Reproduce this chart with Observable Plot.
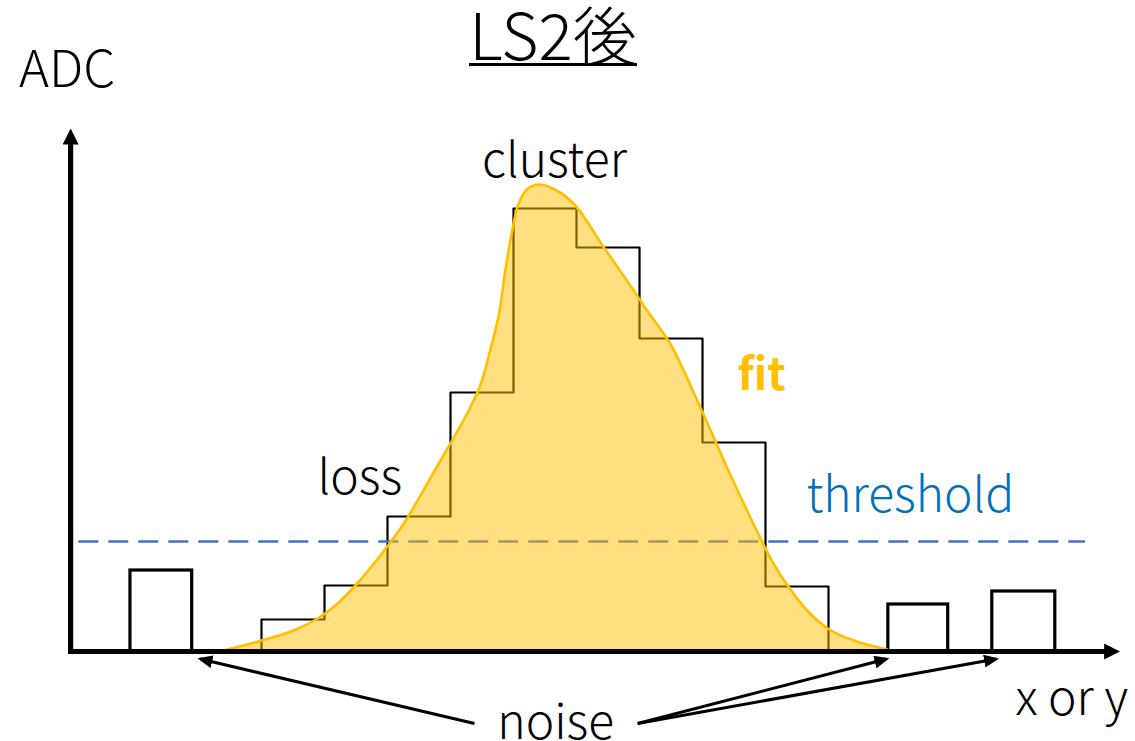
<!DOCTYPE html>
<html><head><meta charset="utf-8">
<script src="https://cdn.jsdelivr.net/npm/d3@7"></script>
<script src="https://cdn.jsdelivr.net/npm/@observablehq/plot@0.6"></script>
<style>
body{margin:0;background:#fff;font-family:'Noto Sans CJK JP','Noto Sans',sans-serif;}
#wrap{width:1135px;height:741px;position:relative;overflow:hidden;background:#fff}
#head{position:relative;height:100px}
#title{position:absolute;left:0;width:1106px;text-align:center;top:3px}
#title span{display:inline-block;font-size:64px;line-height:58px;border-bottom:3.5px solid #000;padding-bottom:2px;color:#000;font-weight:300}
#ylab{position:absolute;left:19px;top:40px;font-size:51px;line-height:50px;color:#000;font-weight:300}
#chart svg{display:block}
</style></head>
<body>
<div id="wrap">
  <div id="head"><div id="title"><span>LS2後</span></div><div id="ylab">ADC</div></div>
  <div id="chart"></div>
</div>
<script>
// histogram of the cluster (bin lower edges, upper edges, ADC)
const binLo = [0, 1, 2, 3, 4, 5, 6, 7, 8];
const binHi = [1, 2, 3, 4, 5, 6, 7, 8, 9];
const binADC = [6.4, 13.2, 27, 51.8, 88.6, 80.8, 62.6, 41.8, 13];
// isolated noise hits
const noiseLo = [-2.08, 9.95, 11.6];
const noiseHi = [-1.1, 10.9, 12.6];
const noiseADC = [16.2, 9.4, 12];
// threshold level and its extent
const thresholdADC = 22;
const thresholdFrom = -2.9;
const thresholdTo = 13.08;
// fitted curve
const fitX = [-0.6, -0.02, 0.51, 0.88, 1.2, 1.49, 1.78, 2.05, 2.29, 2.8, 3.29, 3.48, 3.63, 3.77, 3.87, 3.98, 4.08, 4.22, 4.40, 4.64, 4.96, 5.43, 5.80, 6.12, 6.49, 6.97, 7.4, 7.84, 8.13, 8.34, 8.66, 9.0, 9.4, 9.93];
const fitY = [0.2, 2.1, 4.2, 6.5, 9.5, 13.2, 17.5, 21.9, 26.2, 37.3, 48.2, 53.5, 60.2, 67.5, 76.2, 84.2, 89.5, 92.5, 93.4, 92.5, 89.5, 80.9, 74.2, 68.2, 61.5, 48.7, 36.5, 24.7, 17.5, 13.4, 8.2, 4.5, 2.2, 0.4];
// axes extent
const xAxisFrom = -3.06, xAxisTo = 13.55, yAxisAt = -3.03, yAxisFrom = -0.5, yAxisTo = 103.6;
// annotation arrows pointing at noise
const noiseArrowX1 = [3.38, 5.97, 5.97];
const noiseArrowY1 = [-14.4, -14.4, -14.4];
const noiseArrowX2 = [-0.97, 9.92, 11.66];
const noiseArrowY2 = [-1.5, -1.5, -1.5];
// labels
const labelText = ["cluster", "loss", "threshold", "noise", "x or y"];
const labelX = [4.65, 1.56, 10.3, 4.67, 12.86];
const labelY = [98, 34.6, 31, -14.4, -9.6];
const labelColor = ["#000000", "#000000", "#0070C0", "#000000", "#000000"];
const fitLabel = ["fit"];
const fitLabelX = [7.94];
const fitLabelY = [55.2];

const outline = [{x: binLo[0], y: 0}]
  .concat(binLo.map((d, i) => ({x: d, y: binADC[i]})))
  .concat([{x: binHi[binHi.length - 1], y: 0}]);
const noise = noiseLo.map((d, i) => ({x1: d, x2: noiseHi[i], y: noiseADC[i]}));
const fit = fitX.map((d, i) => ({x: d, y: fitY[i]}));
const arrows = noiseArrowX1.map((d, i) => ({x1: d, y1: noiseArrowY1[i], x2: noiseArrowX2[i], y2: noiseArrowY2[i]}));
const axes = [
  {x1: xAxisFrom, y1: 0, x2: xAxisTo, y2: 0},
  {x1: yAxisAt, y1: yAxisFrom, x2: yAxisAt, y2: yAxisTo}
];
const labels = labelText.map((t, i) => ({t, x: labelX[i], y: labelY[i], c: labelColor[i]}));
const fitLab = fitLabel.map((t, i) => ({t, x: fitLabelX[i], y: fitLabelY[i]}));

const font = "'Noto Sans CJK JP','Noto Sans',sans-serif";
const chart = Plot.plot({
  width: 1135, height: 641,
  marginLeft: 68.85, marginRight: 10.9, marginTop: 28, marginBottom: 90,
  x: {domain: [-3.05, 13.7], axis: null},
  y: {domain: [0, 104.6], axis: null},
  style: {fontFamily: font, background: "white", overflow: "visible"},
  marks: [
    Plot.line(outline, {x: "x", y: "y", curve: "step-after", stroke: "#000", strokeWidth: 2.2}),
    Plot.rect(noise, {x1: "x1", x2: "x2", y1: 0, y2: "y", fill: "none", stroke: "#000", strokeWidth: 3.2}),
    Plot.ruleY([thresholdADC], {x1: thresholdFrom, x2: thresholdTo, stroke: "#4472C4", strokeWidth: 2.6, strokeDasharray: "20,10"}),
    Plot.areaY(fit, {x: "x", y: "y", curve: "catmull-rom", fill: "#FFC000", fillOpacity: 0.5}),
    Plot.line(fit, {x: "x", y: "y", curve: "catmull-rom", stroke: "#FFC000", strokeWidth: 2.6}),
    Plot.link(axes, {x1: "x1", y1: "y1", x2: "x2", y2: "y2", stroke: "#000", strokeWidth: 5.2, markerEnd: "arrow"}),
    Plot.link(arrows, {x1: "x1", y1: "y1", x2: "x2", y2: "y2", stroke: "#000", strokeWidth: 3, markerEnd: "arrow"}),
    Plot.text(labels, {x: "x", y: "y", text: "t", fill: "c", fontSize: 48, fontWeight: 300, fontFamily: font}),
    Plot.text(fitLab, {x: "x", y: "y", text: "t", fill: "#FFC000", fontSize: 44, fontWeight: "bold", fontFamily: font})
  ]
});

// turn the library's open arrow markers into filled arrowheads sized per stroke width
function strokeWidthOf(el) {
  while (el && el !== chart) {
    const w = parseFloat(el.getAttribute && el.getAttribute("stroke-width"));
    if (!isNaN(w)) return w;
    el = el.parentNode;
  }
  return 1;
}
const done = new Set();
chart.querySelectorAll("[marker-end]").forEach(el => {
  const ref = el.getAttribute("marker-end");
  const id = ref.slice(ref.indexOf("#") + 1, ref.lastIndexOf(")"));
  if (done.has(id)) return;
  done.add(id);
  const m = chart.querySelector(`marker[id="${id}"]`) || document.getElementById(id);
  if (!m) return;
  const sw = strokeWidthOf(el);
  const len = sw >= 4 ? 16 : 15, wid = sw >= 4 ? 16 : 13, ext = sw >= 4 ? 5 : 3;
  m.setAttribute("markerUnits", "userSpaceOnUse");
  m.setAttribute("viewBox", `${ext - len} ${-wid / 2} ${len} ${wid}`);
  m.setAttribute("markerWidth", len);
  m.setAttribute("markerHeight", wid);
  m.setAttribute("refX", 0);
  m.setAttribute("refY", 0);
  m.setAttribute("fill", "#000");
  m.setAttribute("stroke", "none");
  m.removeAttribute("stroke-width");
  const p = m.querySelector("path");
  if (p) {
    p.setAttribute("d", `M${ext},0L${ext - len},${-wid / 2}L${ext - len},${wid / 2}Z`);
    p.setAttribute("fill", "#000");
    p.setAttribute("stroke", "none");
  }
});
document.getElementById("chart").appendChild(chart);
</script>
</body></html>
